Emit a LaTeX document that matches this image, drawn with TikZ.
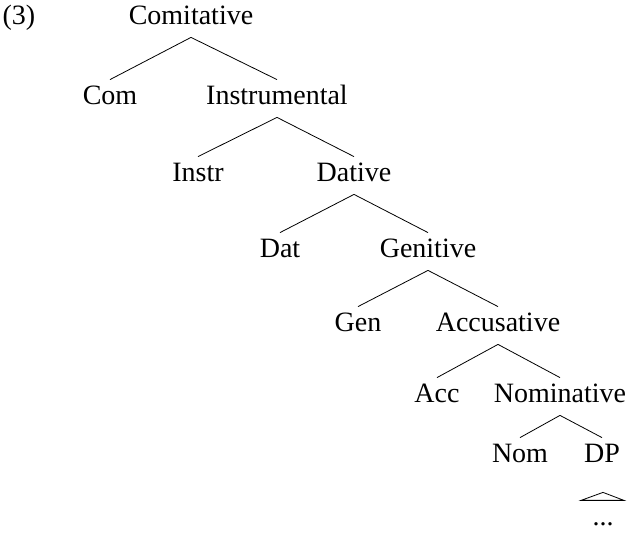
\documentclass[tikz,border=0pt]{standalone}
\usepackage{fontspec}
\setmainfont{Liberation Serif}

\tikzset{cat/.style={anchor=base,text height=19pt,text depth=6pt,inner xsep=0pt,inner ysep=6pt}}

\begin{document}
\begin{tikzpicture}[x=1pt,y=-1pt,font=\fontsize{28}{33}\selectfont,line width=0.8pt]
                  \useasboundingbox (0,0) rectangle (630,534);
                  \node[cat] (ex) at (19,25) {(3)};
                  \node[cat] (comP) at (191,25) {Comitative};
                  \node[cat] (com) at (110,105) {Com};
                  \node[cat] (instrP) at (277,105) {Instrumental};
                  \node[cat] (instr) at (198,182) {Instr};
                  \node[cat] (datP) at (354,182) {Dative};
                  \node[cat] (dat) at (280,258) {Dat};
                  \node[cat] (genP) at (428,258) {Genitive};
                  \node[cat] (gen) at (358,332) {Gen};
                  \node[cat] (accP) at (498,332) {Accusative};
                  \node[cat] (acc) at (437,403) {Acc};
                  \node[cat] (nomP) at (560,403) {Nominative};
                  \node[cat] (nom) at (520,463) {Nom};
                  \node[cat] (dp) at (602,463) {DP};
                  \node[anchor=base,inner sep=0pt] (dots) at (603,526) {...};
                  % branches
                  \draw (comP.south) -- (com.north);
                  \draw (comP.south) -- (instrP.north);
                  \draw (instrP.south) -- (instr.north);
                  \draw (instrP.south) -- (datP.north);
                  \draw (datP.south) -- (dat.north);
                  \draw (datP.south) -- (genP.north);
                  \draw (genP.south) -- (gen.north);
                  \draw (genP.south) -- (accP.north);
                  \draw (accP.south) -- (acc.north);
                  \draw (accP.south) -- (nomP.north);
                  \draw (nomP.south) -- (nom.north);
                  \draw (nomP.south) -- (dp.north);
                  \draw (dp.south) ++(1,17) -- ++(21,8) -- ++(-43,0) -- cycle;
              \end{tikzpicture}
\end{document}
